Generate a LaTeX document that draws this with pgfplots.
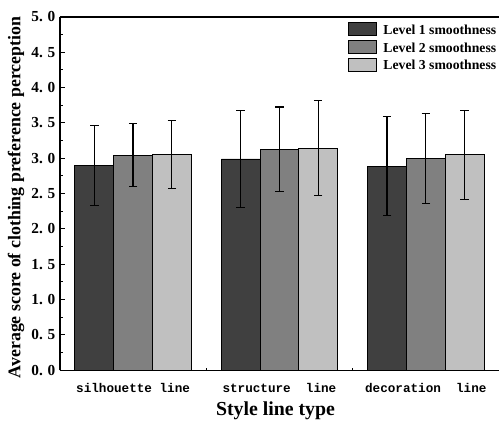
\documentclass[border=0pt]{standalone}
\usepackage{pgfplots}
\pgfplotsset{compat=1.18}
\usepackage{fontspec}
\setmainfont{Liberation Serif}
\setmonofont{Liberation Mono}
\definecolor{lvlA}{HTML}{404040}
\definecolor{lvlB}{HTML}{808080}
\definecolor{lvlC}{HTML}{C0C0C0}

\begin{document}
\begin{tikzpicture}
\begin{axis}[
  scale only axis,
  width=330pt, height=265.5pt,
  xmin=0.5, xmax=3.5,
  ymin=0, ymax=5,
  axis x line=box, axis y line=left,
  axis line style={line width=1.1pt,-},
  ybar=0pt, bar width=0.265,
  xtick={1,2,3},
  xticklabels={silhouette\hspace{0.6em}line, structure\hspace{1.2em}line, decoration\hspace{1.2em}line},
  minor xtick={1.5,2.5},
  xtick pos=bottom, ytick pos=left,
  tick align=inside,
  major tick length=3.5pt, minor tick length=2pt,
  every tick/.style={black, line width=0.7pt},
  ytick={0,0.5,...,5},
  yticklabels={0.\hspace{0.3em}0,0.\hspace{0.3em}5,1.\hspace{0.3em}0,1.\hspace{0.3em}5,2.\hspace{0.3em}0,2.\hspace{0.3em}5,3.\hspace{0.3em}0,3.\hspace{0.3em}5,4.\hspace{0.3em}0,4.\hspace{0.3em}5,5.\hspace{0.3em}0},
  minor y tick num=1,
  xticklabel style={font=\ttfamily\bfseries\fontsize{9.5}{11}\selectfont, yshift=-6pt},
  yticklabel style={font=\bfseries\fontsize{11.5}{12}\selectfont},
  xlabel={\bfseries Style line type},
  ylabel={\bfseries Average score of clothing preference perception},
  xlabel style={font=\fontsize{14.9}{16}\selectfont, at={(axis description cs:0.491,-0.115)}, anchor=center},
  ylabel style={font=\fontsize{13.4}{15}\selectfont, at={(axis description cs:-0.1,0.489)}, anchor=center},
  legend style={draw=none, fill=none, inner sep=0pt, at={(axis description cs:0.655,0.986)}, anchor=north west,
    font=\bfseries\fontsize{10.3}{12}\selectfont,
    nodes={inner sep=0pt, text height=9pt, text depth=2pt}, row sep=2pt,
    /tikz/every odd column/.append style={column sep=5.25pt}},
  legend cell align=left,
  legend image code/.code={\draw[#1, draw=black, line width=0.6pt] (0pt,-4.25pt) rectangle (21pt,5.5pt);},
  error bars/error bar style={black, line width=0.9pt},
  error bars/error mark options={rotate=90, mark size=3.2pt, line width=0.9pt, black},
]
\addplot[fill=lvlA, draw=black, line width=0.6pt,
  error bars/.cd, y dir=both, y explicit]
  coordinates {(1,2.895) +- (0,0.565) (2,2.99) +- (0,0.69) (3,2.89) +- (0,0.70)};
\addplot[fill=lvlB, draw=black, line width=0.6pt,
  error bars/.cd, y dir=both, y explicit]
  coordinates {(1,3.046) +- (0,0.445) (2,3.126) +- (0,0.60) (3,3.00) +- (0,0.635)};
\addplot[fill=lvlC, draw=black, line width=0.6pt,
  error bars/.cd, y dir=both, y explicit]
  coordinates {(1,3.055) +- (0,0.485) (2,3.145) +- (0,0.675) (3,3.05) +- (0,0.63)};
\legend{Level 1 smoothness, Level 2 smoothness, Level 3 smoothness}
\end{axis}
\pgfresetboundingbox
\useasboundingbox ([xshift=-45pt,yshift=-39pt]current axis.south west) rectangle ([yshift=12.75pt]current axis.north east);
\end{tikzpicture}
\end{document}
